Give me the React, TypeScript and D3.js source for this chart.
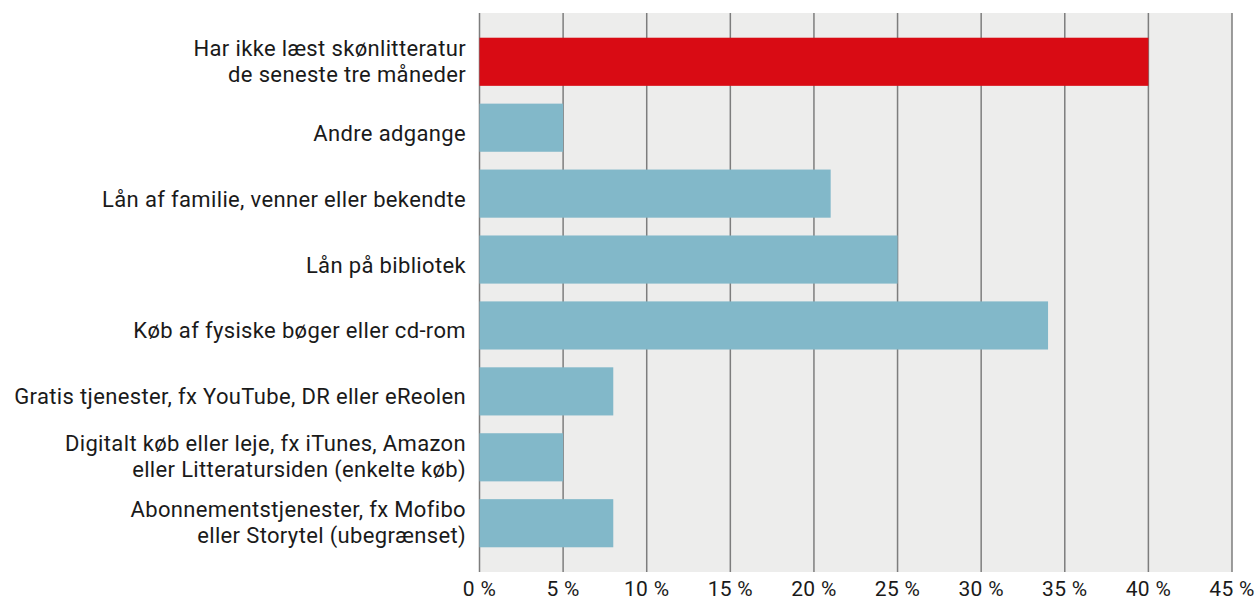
import React from "react";
import * as d3 from "d3";

const categories: string[][] = [
  ["Har ikke læst skønlitteratur", "de seneste tre måneder"],
  ["Andre adgange"],
  ["Lån af familie, venner eller bekendte"],
  ["Lån på bibliotek"],
  ["Køb af fysiske bøger eller cd-rom"],
  ["Gratis tjenester, fx YouTube, DR eller eReolen"],
  ["Digitalt køb eller leje, fx iTunes, Amazon", "eller Litteratursiden (enkelte køb)"],
  ["Abonnementstjenester, fx Mofibo", "eller Storytel (ubegrænset)"],
];
const values: number[] = [40, 5, 21, 25, 34, 8, 5, 8];
const highlight: boolean[] = [true, false, false, false, false, false, false, false];
const ticks: number[] = [0, 5, 10, 15, 20, 25, 30, 35, 40, 45];

const W = 1258;
const H = 600;
const left = 479.5;
const right = 1232;
const top = 13;
const bottom = 572;
const FONT = "Roboto, 'Noto Sans', sans-serif";

export default function App() {
  const x = d3.scaleLinear().domain([0, 45]).range([left, right]);
  const y = d3
    .scaleBand<number>()
    .domain(d3.range(categories.length))
    .range([top, bottom])
    .paddingInner(0.27)
    .paddingOuter(0.375);

  return (
    <svg
      width={W}
      height={H}
      style={{ position: "absolute", left: 0, top: 0 }}
      fontFamily={FONT}
    >
      <rect x={left} y={top} width={right - left} height={bottom - top} fill="#ededec" />
      {ticks.map((t) => (
        <line
          key={t}
          x1={x(t)}
          x2={x(t)}
          y1={top}
          y2={bottom}
          stroke="#7d7d7d"
          strokeWidth={1.5}
        />
      ))}
      {values.map((v, i) => (
        <rect
          key={i}
          x={x(0)}
          y={y(i)!}
          width={x(v) - x(0)}
          height={y.bandwidth()}
          fill={highlight[i] ? "#d90b14" : "#82b8c9"}
        />
      ))}
      {categories.map((lines, i) => {
        const cy = y(i)! + y.bandwidth() / 2;
        const lh = 26;
        const start = cy + 13 - (lines.length - 1) * 19;
        return (
          <text
            key={i}
            x={466}
            textAnchor="end"
            fontSize={22}
            letterSpacing={0.35}
            fill="#1a1a1a"
          >
            {lines.map((l, j) => (
              <tspan key={j} x={466} y={start + j * lh}>
                {l}
              </tspan>
            ))}
          </text>
        );
      })}
      {ticks.map((t) => (
        <text
          key={t}
          x={x(t)}
          y={596}
          textAnchor="middle"
          fontSize={21}
          letterSpacing={0.3}
          fill="#1a1a1a"
        >
          {`${t} %`}
        </text>
      ))}
    </svg>
  );
}
